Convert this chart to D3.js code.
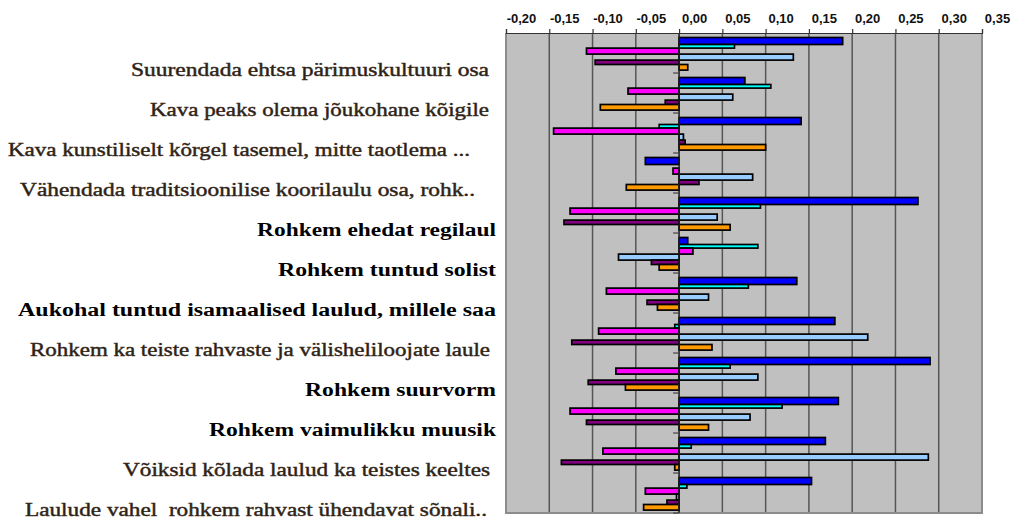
<!DOCTYPE html>
<html>
<head>
<meta charset="utf-8">
<script src="https://cdn.jsdelivr.net/npm/d3@7"></script>
<style>
  html, body { margin: 0; padding: 0; background: #ffffff; }
  svg { display: block; }
</style>
</head>
<body>
<svg id="chart" width="1012" height="519"></svg>
<script>
// ---------------- DATA ----------------
const categories = [
  "Suurendada ehtsa pärimuskultuuri osa",
  "Kava peaks olema jõukohane kõigile",
  "Kava kunstiliselt kõrgel tasemel, mitte taotlema ...",
  "Vähendada traditsioonilise koorilaulu osa, rohk..",
  "Rohkem ehedat regilaul",
  "Rohkem tuntud solist",
  "Aukohal tuntud isamaalised laulud, millele saa",
  "Rohkem ka teiste rahvaste ja välisheliloojate laule",
  "Rohkem suurvorm",
  "Rohkem vaimulikku muusik",
  "Võiksid kõlada laulud ka teistes keeltes",
  "Laulude vahel  rohkem rahvast ühendavat sõnali.."
];
const seriesNames = ["Seeria 1", "Seeria 2", "Seeria 3", "Seeria 4", "Seeria 5", "Seeria 6"];
const series1 = [0.189, 0.076, 0.141, -0.039, 0.276, 0.010, 0.136, 0.180, 0.290, 0.184, 0.169, 0.153];
const series2 = [0.064, 0.106, -0.023, 0.000, 0.094, 0.091, 0.080, -0.005, 0.059, 0.119, 0.014, 0.009];
const series3 = [-0.107, -0.059, -0.145, -0.007, -0.126, 0.016, -0.084, -0.093, -0.073, -0.126, -0.088, -0.039];
const series4 = [0.132, 0.062, 0.005, 0.085, 0.044, -0.070, 0.034, 0.218, 0.091, 0.082, 0.288, -0.003];
const series5 = [-0.097, -0.016, 0.007, 0.023, -0.133, -0.032, -0.037, -0.124, -0.105, -0.107, -0.136, -0.014];
const series6 = [0.010, -0.091, 0.100, -0.061, 0.059, -0.023, -0.025, 0.038, -0.062, 0.034, -0.005, -0.041];
const tickValues = [-0.20, -0.15, -0.10, -0.05, 0.00, 0.05, 0.10, 0.15, 0.20, 0.25, 0.30, 0.35];
const tickLabels = ["-0,20", "-0,15", "-0,10", "-0,05", "0,00", "0,05", "0,10", "0,15", "0,20", "0,25", "0,30", "0,35"];

// ---------------- STYLE ----------------
const seriesColors = ["#0000ff", "#00ffff", "#ff00ff", "#99ccff", "#800080", "#ff9900"];
const seriesThickness = [7, 3.6, 6, 6, 4.4, 5.6]; // apparent bar thickness (px)
const boldLabel = [false, false, false, false, true, true, true, false, true, true, false, false];
// label horizontal extents (start, end) in px
const labelSpan = [
  [131, 489], [150, 489], [8, 470], [20, 475], [257, 496], [278, 496],
  [18, 496], [30, 490], [305, 496], [209, 496], [123, 490], [25, 487]
];

const allSeries = [series1, series2, series3, series4, series5, series6];

const svg = d3.select("#chart");
const plot = { left: 506, right: 982, top: 33, bottom: 513 };

const x = d3.scaleLinear().domain([-0.20, 0.35]).range([plot.left, plot.right]);
const y = d3.scaleBand().domain(d3.range(categories.length)).range([plot.top, plot.bottom]).padding(0);
const barOffsets = [0, ...d3.cumsum(seriesThickness)].map(v => v + 4.5);

// plot background
svg.append("rect")
  .attr("x", plot.left).attr("y", plot.top)
  .attr("width", plot.right - plot.left).attr("height", plot.bottom - plot.top)
  .attr("fill", "#c0c0c0");

// gridlines
svg.append("g").selectAll("line")
  .data(tickValues.slice(1, -1))
  .join("line")
  .attr("x1", d => x(d)).attr("x2", d => x(d))
  .attr("y1", plot.top).attr("y2", plot.bottom)
  .attr("stroke", "#555555").attr("stroke-width", 1.5);

// plot border (gray)
svg.append("path")
  .attr("d", `M${plot.left},${plot.top} V${plot.bottom} H${plot.right} V${plot.top}`)
  .attr("fill", "none").attr("stroke", "#8c8c8c").attr("stroke-width", 2);

// top axis
const xAxis = d3.axisTop(x).tickValues(tickValues).tickSize(4)
  .tickFormat((d, i) => tickLabels[i]);
const gx = svg.append("g").attr("transform", `translate(0,${plot.top})`).call(xAxis);
gx.select(".domain").attr("stroke", "#333").attr("stroke-width", 1.2);
gx.selectAll(".tick line").attr("stroke", "#333").attr("stroke-width", 1.2);
gx.selectAll(".tick text")
  .attr("font-family", "Liberation Sans, Arial, sans-serif")
  .attr("font-weight", "bold")
  .attr("font-size", 13)
  .attr("fill", "#111")
  .attr("dx", 15)
  .attr("y", -10);

// bars
const groups = svg.append("g").selectAll("g")
  .data(categories.map((c, i) => i))
  .join("g")
  .attr("transform", i => `translate(0,${y(i)})`);

groups.selectAll("rect")
  .data(i => allSeries.map((s, k) => ({ k, v: s[i] })))
  .join("rect")
  .attr("x", d => x(Math.min(0, d.v)))
  .attr("width", d => Math.abs(x(d.v) - x(0)))
  .attr("y", d => barOffsets[d.k])
  .attr("height", d => seriesThickness[d.k])
  .attr("fill", d => seriesColors[d.k])
  .attr("stroke", "#000")
  .attr("stroke-width", 1.7);

// vertical zero axis with category ticks
svg.append("line")
  .attr("x1", x(0)).attr("x2", x(0))
  .attr("y1", plot.top).attr("y2", plot.bottom)
  .attr("stroke", "#222").attr("stroke-width", 1.2);
svg.append("g").selectAll("line")
  .data(d3.range(1, categories.length + 1))
  .join("line")
  .attr("x1", x(0) - 6).attr("x2", x(0))
  .attr("y1", i => y(i - 1) + y.bandwidth()).attr("y2", i => y(i - 1) + y.bandwidth())
  .attr("stroke", "#444").attr("stroke-width", 1.2);

// category labels
svg.append("g").selectAll("text")
  .data(categories.map((c, i) => ({ c, i })))
  .join("text")
  .attr("x", d => labelSpan[d.i][0])
  .attr("y", d => y(d.i) + y.bandwidth() / 2 + 17)
  .attr("dy", "0.35em")
  .attr("textLength", d => labelSpan[d.i][1] - labelSpan[d.i][0])
  .attr("lengthAdjust", "spacingAndGlyphs")
  .attr("xml:space", "preserve")
  .attr("font-family", "Liberation Serif, Times New Roman, serif")
  .attr("font-weight", d => boldLabel[d.i] ? "bold" : "normal")
  .attr("font-size", d => boldLabel[d.i] ? 18 : 18)
  .attr("fill", d => boldLabel[d.i] ? "#000" : "#2a1f16")
  .attr("stroke", d => boldLabel[d.i] ? "none" : "#3a2a1c")
  .attr("stroke-width", 0.45)
  .text(d => d.c);
</script>
</body>
</html>
